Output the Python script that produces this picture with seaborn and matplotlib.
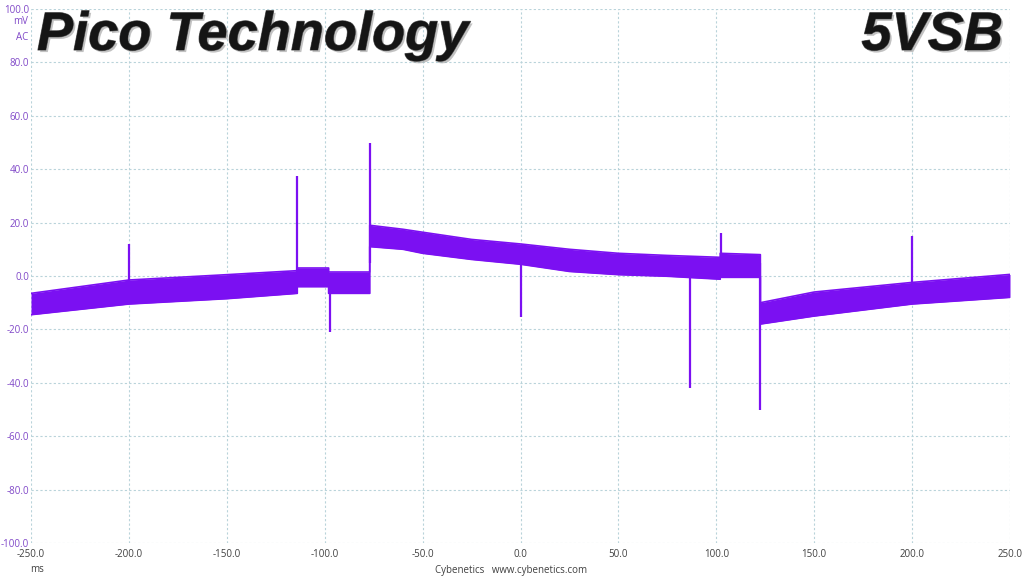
import matplotlib
matplotlib.use("Agg")
import matplotlib.pyplot as plt
import matplotlib.patheffects as pe
from matplotlib.font_manager import FontProperties
import seaborn as sns

# ---- data (ms, mV) ----
time_ms = [-250, -200, -150, -114, -114, -98, -98, -77, -77, -60, -50, -25, 0, 25, 50, 75, 102, 102, 122.5, 122.5, 150, 200, 250]
band_upper = [-6.5, -1.5, 0.5, 2, 3, 3, 1.5, 1.5, 19, 17.5, 16.4, 13.7, 12, 10, 8.5, 7.7, 7, 8.5, 8, -10, -6, -2.4, 0.6]
band_lower = [-14.5, -10.5, -8.5, -6.5, -4, -4, -6.5, -6.5, 11, 10, 8.5, 6.2, 4.4, 1.7, 0.5, -0.1, -1.2, -0.5, -0.5, -18, -15, -10.5, -8]

spike_x = [-200, -114, -97.5, -77, 0, 86.5, 102.5, 122.5, 200]
spike_hi = [12, 37.5, 0, 50, 8, 3, 16, 5, 15]
spike_lo = [-6, -3, -21, 5, -15.5, -42, 3, -50, -6]

x_ticks = [-250, -200, -150, -100, -50, 0, 50, 100, 150, 200, 250]
y_ticks = [-100, -80, -60, -40, -20, 0, 20, 40, 60, 80, 100]

PURPLE = "#7b10f2"
TICK_PURPLE = "#8048c8"
GRID = "#b9d3da"

sns.set_theme(style="white")
plt.rcParams["font.family"] = ["Open Sans", "DejaVu Sans"]

fig = plt.figure(figsize=(10.24, 5.76), dpi=100)
ax = fig.add_axes([31 / 1024, 33 / 576, 979 / 1024, 534 / 576])

ax.fill_between(time_ms, band_lower, band_upper, color=PURPLE, linewidth=0, zorder=3)
sns.lineplot(x=time_ms, y=band_upper, estimator=None, sort=False, color=PURPLE, lw=1.2, ax=ax, zorder=3)
sns.lineplot(x=time_ms, y=band_lower, estimator=None, sort=False, color=PURPLE, lw=1.2, ax=ax, zorder=3)
ax.vlines(spike_x, spike_lo, spike_hi, color=PURPLE, lw=1.6, zorder=4)

ax.set_xlim(-250, 250)
ax.set_ylim(-100, 100)
ax.set_xticks(x_ticks)
ax.set_yticks(y_ticks)
ax.set_xticklabels([f"{v:.1f}" for v in x_ticks], color="#404040", fontsize=7)
ax.set_yticklabels([f"{v:.1f}" for v in y_ticks], color=TICK_PURPLE, fontsize=7)
ax.tick_params(axis="y", length=0, pad=1.5)
ax.tick_params(axis="x", length=0, pad=4)
ax.grid(True, color=GRID, linestyle=(0, (2, 2)), linewidth=0.8, zorder=0)
for s in ax.spines.values():
    s.set_visible(False)
ax.set_xlabel("")
ax.set_ylabel("")

fig.text(28 / 1024, 1 - 22 / 576, "mV", color=TICK_PURPLE, fontsize=7, ha="right", va="center")
fig.text(28 / 1024, 1 - 37 / 576, "AC", color=TICK_PURPLE, fontsize=7, ha="right", va="center")
fig.text(37 / 1024, 1 - 570 / 576, "ms", color="#404040", fontsize=7, ha="center", va="center")
fig.text(511 / 1024, 1 - 570 / 576, "Cybenetics   www.cybenetics.com", color="#404040",
         fontsize=7, ha="center", va="center")

title_font = FontProperties(family="Liberation Sans", weight="bold", style="italic", size=39)
effects = [pe.withSimplePatchShadow(offset=(1.5, -1.5), shadow_rgbFace="#9a9a9a", alpha=0.6),
           pe.Stroke(linewidth=0.8, foreground="#666666"), pe.Normal()]
fig.text(37 / 1024, 1 - 50 / 576, "Pico Technology", fontproperties=title_font,
         color="#151515", ha="left", va="baseline", path_effects=effects, zorder=10)
fig.text(1003 / 1024, 1 - 50 / 576, "5VSB", fontproperties=title_font,
         color="#151515", ha="right", va="baseline", path_effects=effects, zorder=10)

fig.savefig("out.png", dpi=100)
